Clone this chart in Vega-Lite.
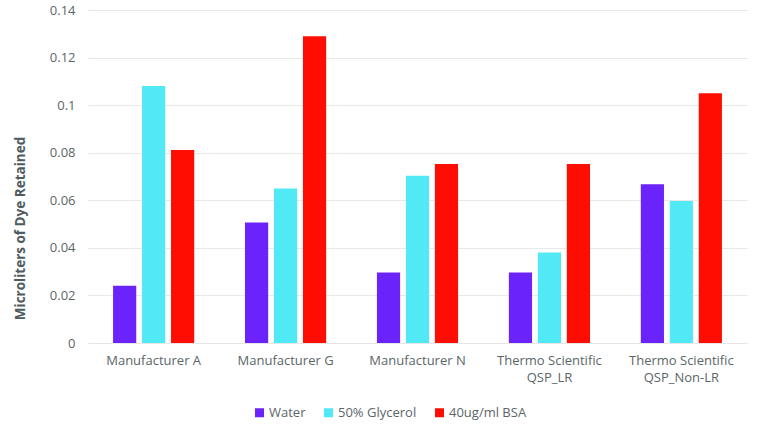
{
  "$schema": "https://vega.github.io/schema/vega-lite/v6.json",
  "width": 659,
  "height": 333,
  "autosize": {"type": "none"},
  "padding": {"left": 88, "top": 10, "right": 21, "bottom": 89},
  "background": "white",
  "config": {
    "view": {"stroke": null},
    "font": "Open Sans",
    "axis": {"labelFont": "Open Sans", "titleFont": "Open Sans"},
    "legend": {"labelFont": "Open Sans"}
  },
  "data": {
    "values": [
      {"maker": "Manufacturer  A", "medium": "Water", "value": 0.0241},
      {"maker": "Manufacturer  A", "medium": "50% Glycerol", "value": 0.108},
      {"maker": "Manufacturer  A", "medium": "40ug/ml BSA", "value": 0.0811},
      {"maker": "Manufacturer G", "medium": "Water", "value": 0.0507},
      {"maker": "Manufacturer G", "medium": "50% Glycerol", "value": 0.065},
      {"maker": "Manufacturer G", "medium": "40ug/ml BSA", "value": 0.129},
      {"maker": "Manufacturer N", "medium": "Water", "value": 0.0296},
      {"maker": "Manufacturer N", "medium": "50% Glycerol", "value": 0.0703},
      {"maker": "Manufacturer N", "medium": "40ug/ml BSA", "value": 0.0753},
      {"maker": "Thermo Scientific QSP_LR", "medium": "Water", "value": 0.0296},
      {"maker": "Thermo Scientific QSP_LR", "medium": "50% Glycerol", "value": 0.0381},
      {"maker": "Thermo Scientific QSP_LR", "medium": "40ug/ml BSA", "value": 0.0753},
      {"maker": "Thermo Scientific QSP_Non-LR", "medium": "Water", "value": 0.0667},
      {"maker": "Thermo Scientific QSP_Non-LR", "medium": "50% Glycerol", "value": 0.0597},
      {"maker": "Thermo Scientific QSP_Non-LR", "medium": "40ug/ml BSA", "value": 0.105}
    ]
  },
  "mark": {"type": "bar"},
  "encoding": {
    "x": {
      "field": "maker",
      "type": "nominal",
      "sort": null,
      "scale": {"paddingInner": 0.385, "paddingOuter": 0.19},
      "axis": {
        "title": null,
        "labelAngle": 0,
        "domain": true,
        "domainColor": "#e6e6e6",
        "domainWidth": 1,
        "ticks": false,
        "labelPadding": 11,
        "labelFontSize": 13,
        "labelColor": "#5b6669",
        "labelLineHeight": 17,
        "labelExpr": "indexof(datum.value,'Thermo')==0 ? [slice(datum.value,0,17), slice(datum.value,18)] : datum.value"
      }
    },
    "xOffset": {
      "field": "medium",
      "type": "nominal",
      "sort": ["Water", "50% Glycerol", "40ug/ml BSA"],
      "scale": {"paddingInner": 0.2, "paddingOuter": 0}
    },
    "y": {
      "field": "value",
      "type": "quantitative",
      "scale": {"domain": [0, 0.14], "nice": false},
      "axis": {
        "title": "Microliters of Dye Retained",
        "titleFontSize": 13.5,
        "titleFontWeight": "bold",
        "titleColor": "#4f5b5e",
        "titleX": -68,
        "titleY": 218,
        "titleAlign": "center",
        "titleBaseline": "middle",
        "titleAngle": -90,
        "values": [0, 0.02, 0.04, 0.06, 0.08, 0.1, 0.12, 0.14],
        "labelExpr": "datum.value == 0 ? '0' : format(datum.value, '.2~f')",
        "labelFontSize": 13,
        "labelColor": "#5b6669",
        "labelPadding": 13,
        "domain": false,
        "ticks": false,
        "grid": true,
        "gridColor": "#e8e8e8",
        "gridWidth": 1
      }
    },
    "color": {
      "field": "medium",
      "type": "nominal",
      "sort": ["Water", "50% Glycerol", "40ug/ml BSA"],
      "scale": {
        "domain": ["Water", "50% Glycerol", "40ug/ml BSA"],
        "range": ["#6a24fb", "#52e9f6", "#fe0e02"]
      },
      "legend": {
        "title": null,
        "orient": "none",
        "direction": "horizontal",
        "legendX": 165,
        "legendY": 396,
        "symbolType": "square",
        "symbolSize": 81,
        "symbolStrokeWidth": 0,
        "labelFontSize": 13,
        "labelColor": "#5b6669",
        "labelOffset": 3,
        "columnPadding": 16
      }
    }
  }
}
